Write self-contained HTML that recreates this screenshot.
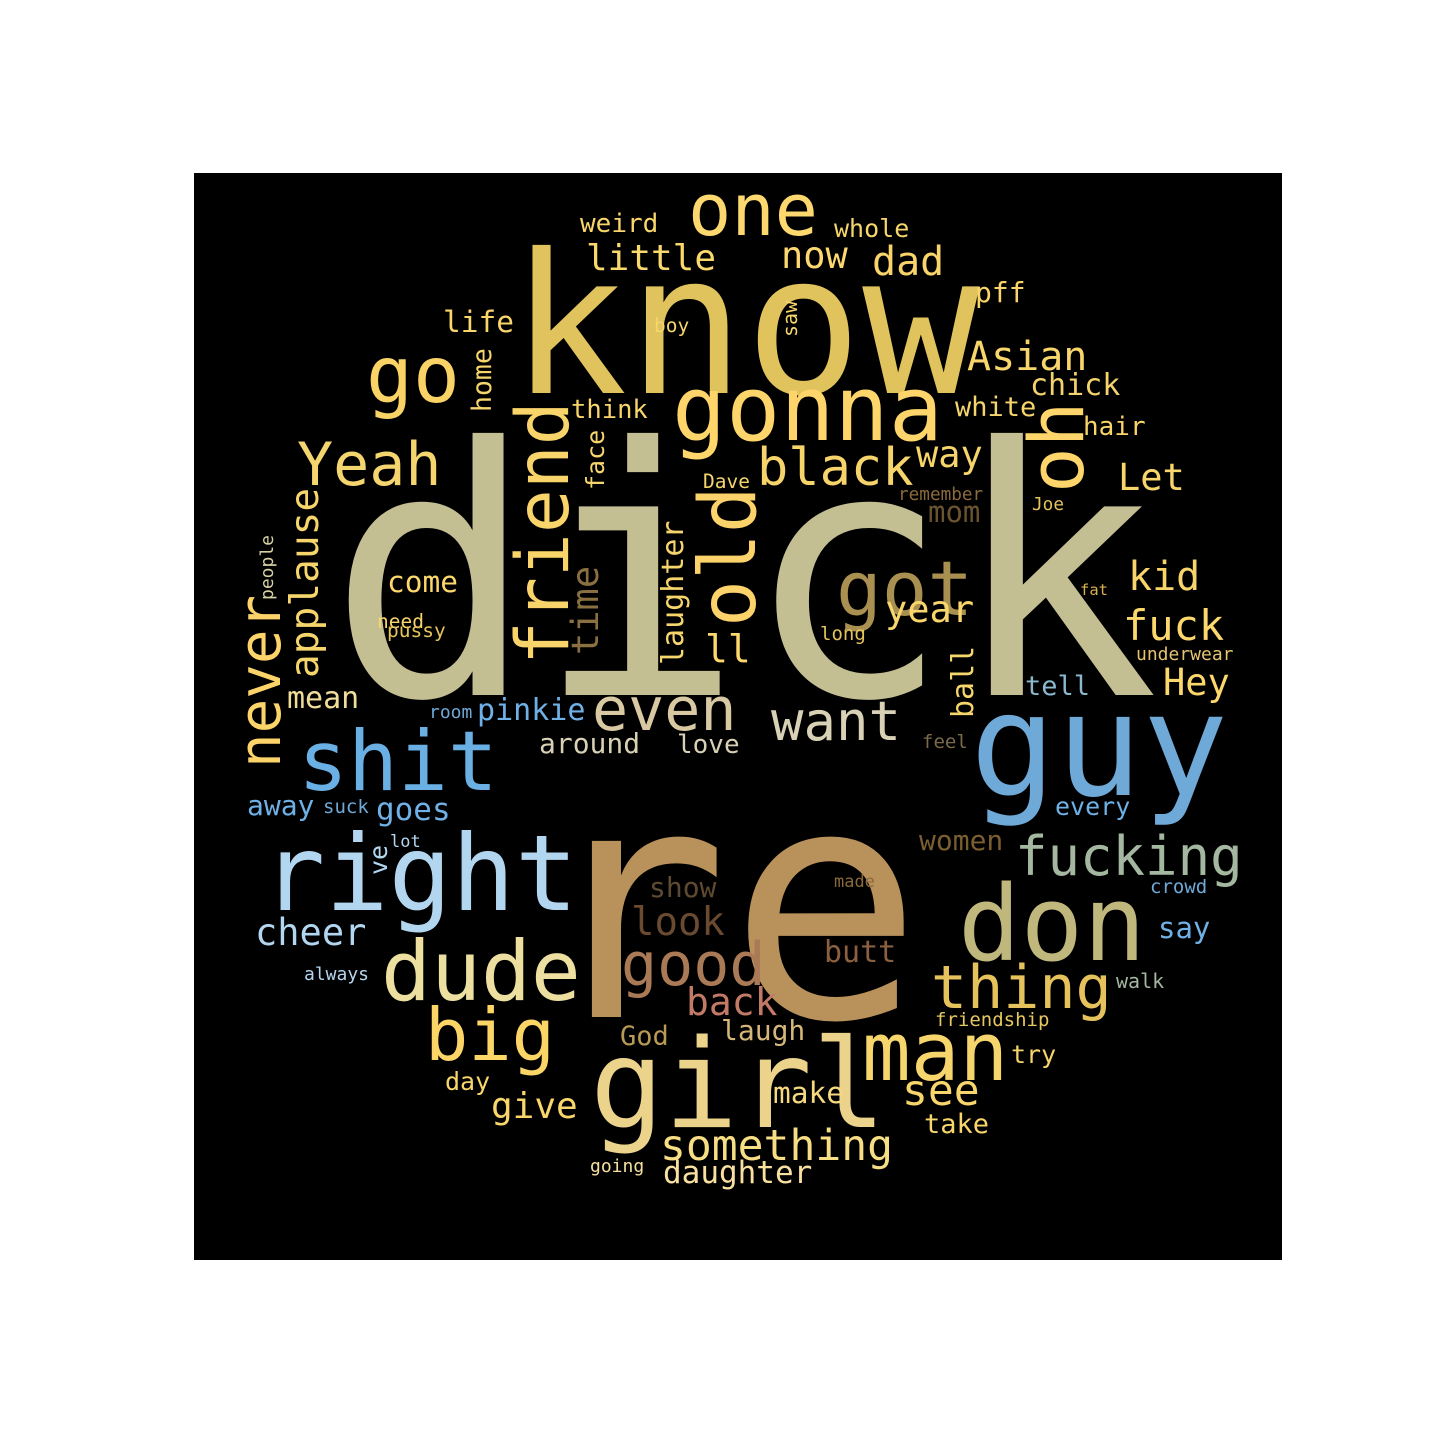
<!DOCTYPE html>
<html><head><meta charset="utf-8">
<style>
html,body{margin:0;padding:0;background:#fff;width:1440px;height:1440px;overflow:hidden}
svg{display:block}
text{font-family:"DejaVu Sans Mono","Liberation Mono",monospace}
</style></head>
<body>
<svg id="cloud" width="1440" height="1440" viewBox="0 0 1440 1440" xmlns="http://www.w3.org/2000/svg">
<rect x="194" y="173" width="1088" height="1087" fill="#000"/>
</svg>
<script>
const words = ["dick","re","know","guy","girl","right","don","dude","gonna","one","go","Yeah","shit","even","want","black","got","big","man","thing","good","fucking","something","little","now","dad","Asian","pff","chick","white","hair","way","Let","kid","fuck","underwear","Hey","tell","every","crowd","say","walk","try","friendship","see","take","make","laugh","back","God","give","day","going","daughter","butt","made","look","show","women","feel","love","around","pinkie","room","mean","away","suck","goes","lot","cheer","always","come","need","pussy","life","weird","whole","boy","think","Dave","remember","mom","Joe","year","long","fat","ll","friend","old","oh","never","applause","time","laughter","face","home","saw","people","ball","ve"];
const sizes = [345,322,195,143,123,105,104,83,90,72,78,60,83,60,54,52,76,72,81,60,60,54,43,36,37,40,40,28,30,27,26,37,37,40,42,18,37,27,25,19,29,20,25,19,43,27,29.5,28,38,27,36,25,18,31,30,17,39,28,28,19,26,28,30,18,30,28,19,31,17,37,18,29.5,19.5,19.5,29.5,26,25,19.5,25.5,19.5,17.7,29,17.7,37,19,15.5,38,73,78,76,57.5,39.5,37,30,25,26.5,20,18,30,25];
const colors = ["#c4bf93","#b8915b","#e0c35c","#6fa9d7","#ecd38c","#b3d6f0","#c0b77d","#ecdfa0","#fdd56b","#fcd86e","#f9d365","#f5d56e","#6bb0e4","#d8c9a3","#d9d1b5","#f7d36b","#a99051","#fbd565","#f6d56c","#e5c25b","#a97a55","#a4b7a0","#f7dd84","#f9d86c","#fcd870","#f8d46a","#f8d66c","#f8d46a","#f5d36c","#f5d56c","#f8d46a","#f5d56c","#f8d66c","#f8d46a","#fcd86c","#e5c370","#fcd86c","#8bb8cf","#6fb1e6","#6fa9d7","#6fb1e6","#a4b7a0","#f5d56c","#e5c85e","#f8d66c","#f8d66c","#f5d880","#d6b77a","#c27a67","#b99a55","#f8d66c","#f8d66c","#f5e0a0","#f7e0a0","#8a6040","#8a6a3a","#6a4a30","#5e4a30","#7a5e30","#7a6a4a","#d8d1b5","#d8d1b5","#6fb1e6","#6fa9d7","#f0dd9a","#6fb1e6","#6fa9d7","#6fb1e6","#b3d6f0","#b3d6f0","#b3d6f0","#fcd86c","#f8d66c","#e5c35c","#f8d66c","#f8d66c","#f5d56c","#f5d56c","#f8d66c","#f5d56c","#8a6a3a","#6a5430","#e5c35c","#f8d66c","#e5c35c","#d8b050","#fcd86c","#f9d46a","#fcd26a","#fdd56b","#fcd46a","#f5d56c","#8a7040","#f5d56c","#f5d56c","#f5d56c","#f5d56c","#d8d1a5","#f5d56c","#b3d6f0"];
const px = [328,535,510,970,590,262,958,381,672,688,366,297,298,592,771,757,836,425,862,931,621,1015,660,586,781,872,967,975,1030,955,1083,916,1118,1128,1123,1136,1163,1025,1055,1150,1158,1116,1011,935,902,924,773,721,686,620,491,445,590,663,824,834,631,649,919,922,677,539,477,429,287,247,323,376,390,255,304,387,377,387,443,580,834,654,571,703,898,928,1032,885,820,1080,705,568,755,1083,280,318,598,683,604,491,797,273,973,387];
const py = [695,1017,393,795,1127,910,960,1000,440,235,402,485,790,730,740,485,615,1060,1080,1008,985,875,1160,270,268,275,370,302,395,416,435,467,490,590,640,660,695,695,815,893,938,988,1063,1026,1105,1133,1103,1040,1015,1045,1118,1090,1172,1183,962,887,935,897,850,748,753,753,720,718,708,815,813,820,847,945,980,592,628,637,332,232,237,332,418,488,500,522,510,622,640,595,662,665,627,493,768,678,655,665,490,412,337,600,718,875];
const rotated = [0,0,0,0,0,0,0,0,0,0,0,0,0,0,0,0,0,0,0,0,0,0,0,0,0,0,0,0,0,0,0,0,0,0,0,0,0,0,0,0,0,0,0,0,0,0,0,0,0,0,0,0,0,0,0,0,0,0,0,0,0,0,0,0,0,0,0,0,0,0,0,0,0,0,0,0,0,0,0,0,0,0,0,0,0,0,0,1,1,1,1,1,1,1,1,1,1,1,1,1];
const svg = document.getElementById('cloud');
const NS = 'http://www.w3.org/2000/svg';
for (let i = 0; i < words.length; i++) {
  const t = document.createElementNS(NS, 'text');
  
  
  t.setAttribute('font-size', sizes[i]);
  t.setAttribute('fill', colors[i]);
  t.setAttribute('textLength', (sizes[i] * 0.602 * words[i].length).toFixed(1));
  t.setAttribute('lengthAdjust', 'spacingAndGlyphs');
  if (rotated[i]) {
    t.setAttribute('transform', 'translate(' + px[i] + ',' + py[i] + ') rotate(-90)');
    t.setAttribute('x', 0); t.setAttribute('y', 0);
  } else {
    t.setAttribute('x', px[i]); t.setAttribute('y', py[i]);
  }
  t.textContent = words[i];
  svg.appendChild(t);
}
</script>
</body></html>
